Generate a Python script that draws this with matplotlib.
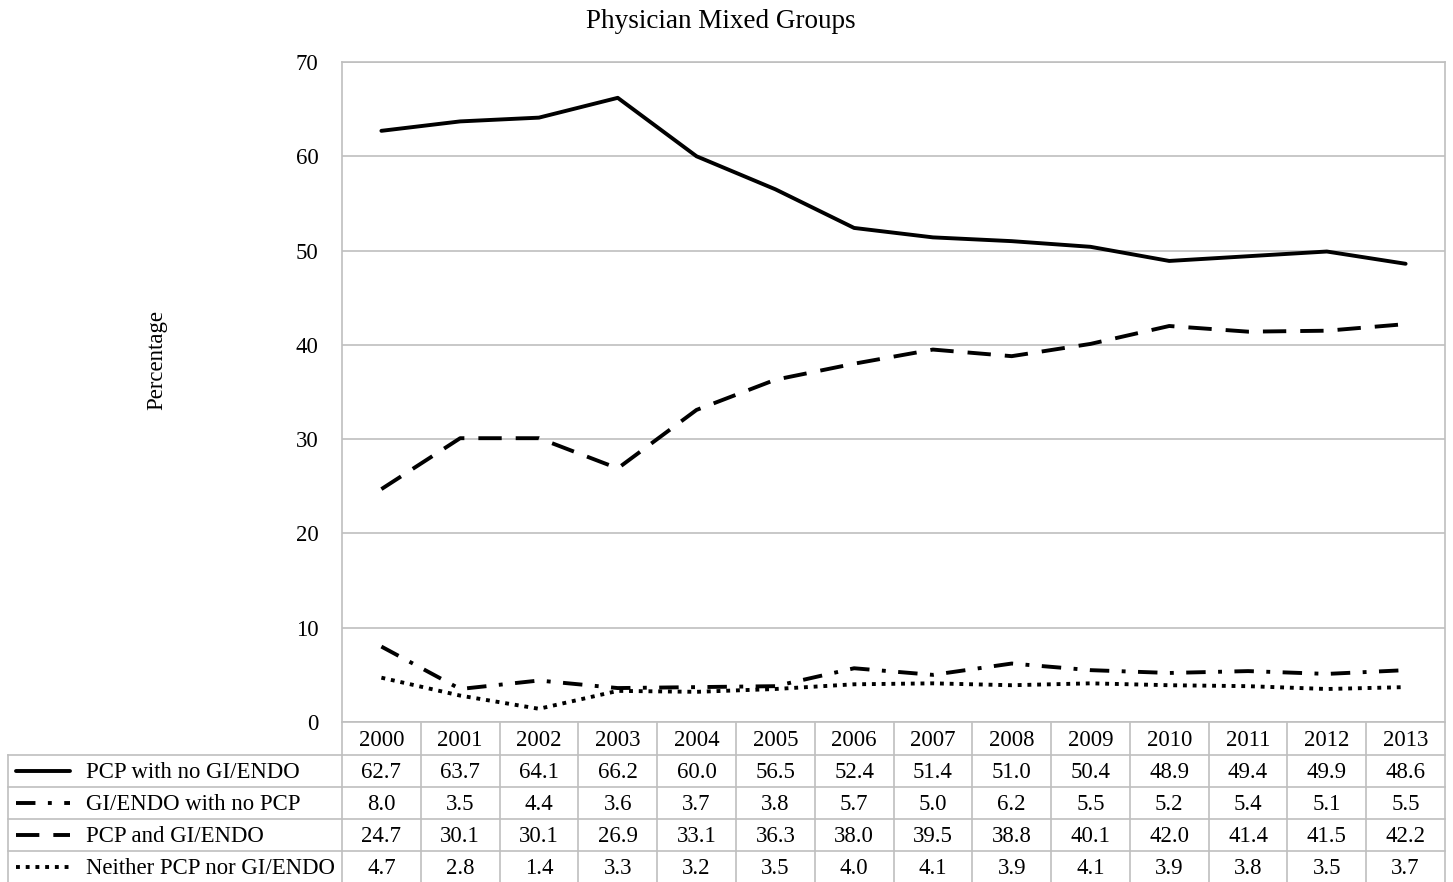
import matplotlib.pyplot as plt
from matplotlib.lines import Line2D

plt.rcParams["font.family"] = ["Liberation Serif", "DejaVu Serif"]

years = [str(y) for y in range(2000, 2014)]
series_names = ["PCP with no GI/ENDO", "GI/ENDO with no PCP", "PCP and GI/ENDO", "Neither PCP nor GI/ENDO"]
pcp_only = [62.7, 63.7, 64.1, 66.2, 60.0, 56.5, 52.4, 51.4, 51.0, 50.4, 48.9, 49.4, 49.9, 48.6]
gi_only = [8.0, 3.5, 4.4, 3.6, 3.7, 3.8, 5.7, 5.0, 6.2, 5.5, 5.2, 5.4, 5.1, 5.5]
both = [24.7, 30.1, 30.1, 26.9, 33.1, 36.3, 38.0, 39.5, 38.8, 40.1, 42.0, 41.4, 41.5, 42.2]
neither = [4.7, 2.8, 1.4, 3.3, 3.2, 3.5, 4.0, 4.1, 3.9, 4.1, 3.9, 3.8, 3.5, 3.7]
series = [pcp_only, gi_only, both, neither]
styles = ["-", (0, (5, 3.2, 1, 3.2)), (0, (6, 3.6)), (0, (1, 1.5))]
caps = ["round", "butt", "butt", "butt"]

W, H = 1453, 882
fig = plt.figure(figsize=(W / 100, H / 100), dpi=100)
grid_c = "#bfbfbf"
fs = 16.4
lw = 2.8

# plot area, in pixel terms: x 342..1445, y 62..722
ax = fig.add_axes([342 / W, 1 - 722 / H, 1103 / W, 660 / H])
x = list(range(len(years)))
for vals, ls, cap in zip(series, styles, caps):
    ax.plot(x, vals, color="black", lw=lw, linestyle=ls, dash_capstyle=cap, solid_capstyle="round")
ax.set_xlim(-0.5, len(years) - 0.5)
ax.set_ylim(0, 70)
ax.set_yticks(range(0, 71, 10))
ax.set_xticks([])
ax.tick_params(axis="y", length=0, pad=17, labelsize=fs)
ax.grid(axis="y", color=grid_c, lw=1.2)
for s in ax.spines.values():
    s.set_color(grid_c)
    s.set_linewidth(1.2)
ax.set_ylabel("Percentage", fontsize=fs, va="center")
ax.yaxis.set_label_coords((157 - 342) / 1103, (722 - 360) / 660)

fig.text(721 / W, 1 - 21 / H, "Physician Mixed Groups", ha="center", va="center", fontsize=19.5)

# data table under the plot
tax = fig.add_axes([0, 0, 1, 1])
tax.set_xlim(0, W)
tax.set_ylim(H, 0)
tax.axis("off")
col_w = 1103 / len(years)
left, x0, top, row_h = 8, 342, 723, 32
n_rows = len(series) + 1
bottom = top + row_h * n_rows

def hline(y, xa, xb):
    tax.add_line(Line2D([xa, xb], [y, y], color=grid_c, lw=1.2))

def vline(xv, ya, yb):
    tax.add_line(Line2D([xv, xv], [ya, yb], color=grid_c, lw=1.2))

for i in range(len(years) + 1):
    vline(x0 + i * col_w, top, bottom)
vline(left, top + row_h, bottom)
for r in range(1, n_rows + 1):
    hline(top + r * row_h, left, x0 + 1103)

for i, yr in enumerate(years):
    tax.text(x0 + (i + 0.5) * col_w, top + row_h / 2 + 2, yr, ha="center", va="center", fontsize=fs)

for r, (name, vals, ls, cap) in enumerate(zip(series_names, series, styles, caps)):
    yc = top + (r + 1.5) * row_h
    tax.add_line(Line2D([16, 70], [yc, yc], color="black", lw=lw, linestyle=ls,
                        dash_capstyle=cap, solid_capstyle="round"))
    tax.text(86, yc + 1.5, name, ha="left", va="center", fontsize=fs)
    for i, v in enumerate(vals):
        tax.text(x0 + (i + 0.5) * col_w, yc + 1.5, f"{v:.1f}", ha="center", va="center", fontsize=fs)

fig.savefig("out.png", dpi=100)
